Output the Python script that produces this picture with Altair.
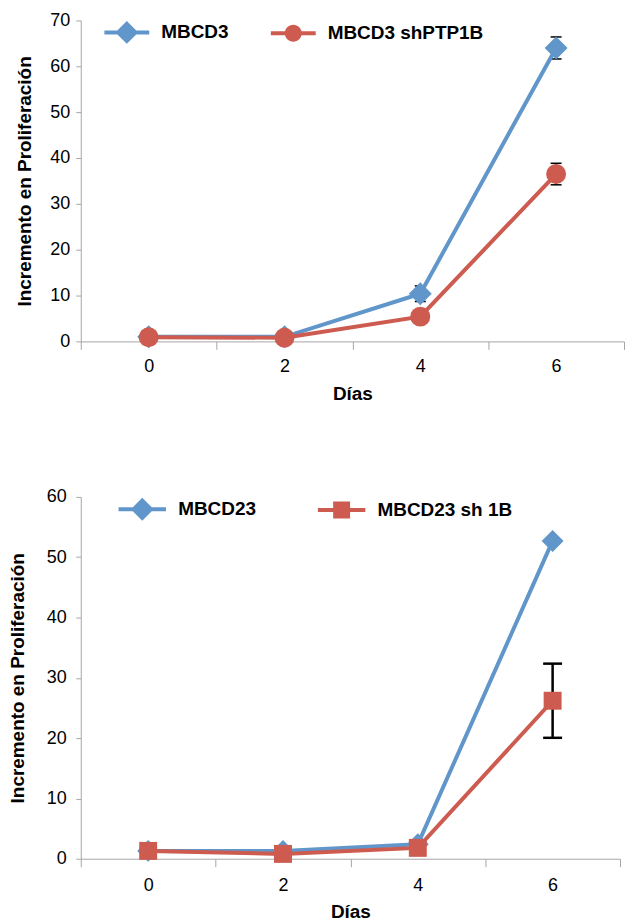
import altair as alt
import pandas as pd

# ---------------- data ----------------
days = ["0", "2", "4", "6"]

series_top = ["MBCD3", "MBCD3 shPTP1B"]
top_mbcd3 = [1.0, 1.0, 10.4, 64.0]
top_mbcd3_err = [0.0, 0.0, 1.7, 2.4]
top_sh = [0.9, 0.8, 5.4, 36.5]
top_sh_err = [0.0, 0.0, 0.0, 2.35]

series_bot = ["MBCD23", "MBCD23 sh 1B"]
bot_mbcd23 = [1.3, 1.3, 2.4, 52.7]
bot_mbcd23_err = [0.0, 0.0, 0.0, 0.0]
bot_sh = [1.3, 0.8, 1.8, 26.2]
bot_sh_err = [0.0, 0.0, 0.0, 6.15]

BLUE = "#6096c9"
RED = "#cd5b4f"
GRAY = "#a6a6a6"
FONT = "Liberation Sans"


def frame(name, vals, errs):
    return pd.DataFrame({
        "day": days,
        "value": vals,
        "err": errs,
        "lo": [v - e for v, e in zip(vals, errs)],
        "hi": [v + e for v, e in zip(vals, errs)],
        "series": [name] * len(days),
    })


def unit_paths(u, half_line, marker):
    t = 2.0 / u
    line = f"M{-half_line:.3f},{-t:.3f}H{half_line:.3f}V{t:.3f}H{-half_line:.3f}Z"
    kind, half = marker
    h = half / u
    if kind == "diamond":
        m = f"M0,{-h:.3f}L{h:.3f},0L0,{h:.3f}L{-h:.3f},0Z"
    elif kind == "circle":
        m = (f"M{-h:.3f},0A{h:.3f},{h:.3f},0,1,1,{h:.3f},0"
             f"A{h:.3f},{h:.3f},0,1,1,{-h:.3f},0Z")
    else:
        m = f"M{-h:.3f},{-h:.3f}H{h:.3f}V{h:.3f}H{-h:.3f}Z"
    return line + m


def panel(series, vals, errs, shapes, sizes, leg_markers, ymax, width, height,
          xax, yax, err_w, cap_w, leg_u, leg_x, leg_y, leg_colpad):
    dfs = [frame(s, v, e) for s, v, e in zip(series, vals, errs)]
    colors = [BLUE, RED]

    x_axis = alt.Axis(title="Días", tickBand="extent", labelAngle=0, grid=False,
                      tickSize=8, labelPadding=xax[0], titlePadding=xax[1],
                      domainColor=GRAY, tickColor=GRAY, domainWidth=1, tickWidth=1)
    y_axis = alt.Axis(title="Incremento en Proliferación", grid=False,
                      values=list(range(0, ymax + 1, 10)),
                      tickSize=5, labelPadding=yax[0], titlePadding=yax[1],
                      domainColor=GRAY, tickColor=GRAY, domainWidth=1, tickWidth=1)
    xs = alt.Scale(type="band", domain=days, paddingInner=0, paddingOuter=0)
    ys = alt.Scale(domain=[0, ymax], nice=False, zero=True)

    def X():
        return alt.X("day:O", scale=xs, axis=x_axis, sort=days)

    def Y(f):
        return alt.Y(f + ":Q", scale=ys, axis=y_axis)

    layers = []
    for df in dfs:
        base = alt.Chart(df).transform_filter("datum.err > 0")
        layers.append(base.mark_rule(color="black", strokeWidth=err_w).encode(
            x=X(), y=Y("lo"), y2=alt.Y2("hi")))
        for f in ("lo", "hi"):
            layers.append(base.mark_tick(color="black", thickness=err_w,
                                         size=cap_w, opacity=1).encode(
                x=X(), y=Y(f)))
    for df, c, shp, sz in zip(dfs, colors, shapes, sizes):
        layers.append(alt.Chart(df).mark_line(color=c, strokeWidth=4).encode(
            x=X(), y=Y("value")))
        layers.append(alt.Chart(df).mark_point(color=c, filled=True, opacity=1,
                                               shape=shp, size=sz, strokeWidth=0).encode(
            x=X(), y=Y("value")))

    paths = [unit_paths(leg_u, 1.0, m) for m in leg_markers]
    leg = alt.Legend(orient="none", legendX=leg_x, legendY=leg_y, direction="horizontal",
                     title=None, labelFont=FONT, labelFontSize=19, labelFontWeight="bold",
                     labelColor="black", labelLimit=400, symbolSize=(2 * leg_u) ** 2,
                     symbolOpacity=1, symbolStrokeWidth=0, labelOffset=12,
                     columnPadding=leg_colpad, padding=0)
    leg_df = pd.DataFrame({"series": series})
    layers.append(alt.Chart(leg_df).mark_point(filled=True, opacity=0).encode(
        x=X(), y=alt.Y("lo:Q", scale=ys, axis=y_axis),
        color=alt.Color("series:N", scale=alt.Scale(domain=series, range=colors), legend=leg),
        shape=alt.Shape("series:N", scale=alt.Scale(domain=series, range=paths), legend=leg),
    ).transform_calculate(day="'0'", lo="1"))
    return alt.layer(*layers).properties(width=width, height=height)


top = panel(series_top, [top_mbcd3, top_sh], [top_mbcd3_err, top_sh_err],
            ["diamond", "circle"], [529, 400],
            [("diamond", 11.5), ("circle", 8.5)],
            70, 545, 322, (8, 9), (6, 15), 1.5, 11, 22.5, 23.7, -10.5, 42)

bottom = panel(series_bot, [bot_mbcd23, bot_sh], [bot_mbcd23_err, bot_sh_err],
               ["diamond", "square"], [484, 324],
               [("diamond", 11.5), ("square", 8.5)],
               60, 541, 363, (10, 8), (9.5, 18.6), 2.5, 19, 23.8, 37.7, -11.8, 61)

chart = alt.concat(top, bottom, columns=1, spacing=82, align="none").resolve_scale(
    color="independent", shape="independent").resolve_legend(
    color="independent", shape="independent").properties(
    padding=0
).configure_view(strokeWidth=0).configure_axis(
    labelFont=FONT, labelFontSize=18, labelColor="black",
    titleFont=FONT, titleFontSize=19, titleFontWeight="bold", titleColor="black")

chart.save("out.html", embed_options={"renderer": "svg", "actions": False})
